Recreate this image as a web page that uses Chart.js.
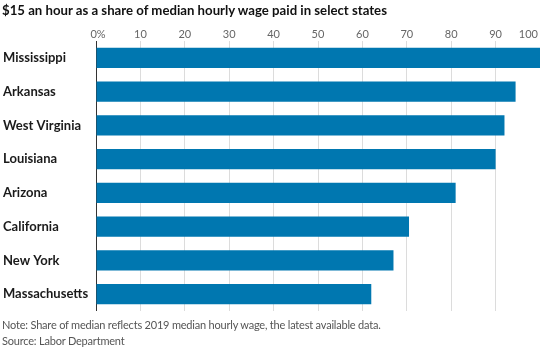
<!DOCTYPE html>
<html>
<head>
<meta charset="utf-8">
<script src="https://cdn.jsdelivr.net/npm/chart.js@4"></script>
<style>
  body { margin: 0; background: #fff; }
  #wrap { position: relative; width: 540px; height: 348px; overflow: hidden; }
  #chart { position: absolute; left: 0; top: 0; }
  .title { position: absolute; left: 2px; top: 2px; font: bold 13.2px Lato, sans-serif; color: #111; white-space: nowrap; }
  .note { position: absolute; left: 2px; font: 11px Lato, sans-serif; color: #555; white-space: nowrap; letter-spacing: -0.2px; }
</style>
</head>
<body>
<div id="wrap">
  <canvas id="chart" width="540" height="348"></canvas>
  <div class="title">$15 an hour as a share of median hourly wage paid in select states</div>
  <div class="note" style="top:318px">Note: Share of median reflects 2019 median hourly wage, the latest available data.</div>
  <div class="note" style="top:334px">Source: Labor Department</div>
</div>
<script>
const states = ['Mississippi', 'Arkansas', 'West Virginia', 'Louisiana', 'Arizona', 'California', 'New York', 'Massachusetts'];
const shares = [102, 94.5, 92, 90, 81, 70.5, 67, 62];
const tickValues = [0, 10, 20, 30, 40, 50, 60, 70, 80, 90, 100];

// x tick labels sit above the plot; the last one is pulled in so it stays on the canvas
const topLabels = {
  id: 'topLabels',
  afterDraw(chart) {
    const ctx = chart.ctx;
    const x = chart.scales.x;
    ctx.save();
    ctx.font = '11px Lato, sans-serif';
    ctx.fillStyle = '#666';
    ctx.textBaseline = 'middle';
    tickValues.forEach((v, i) => {
      const px = x.getPixelForValue(v);
      const text = v === 0 ? '0%' : String(v);
      if (i === tickValues.length - 1) {
        ctx.textAlign = 'right';
        ctx.fillText(text, px - 2, 34);
      } else {
        ctx.textAlign = 'center';
        ctx.fillText(text, px + (v === 0 ? 2 : 0), 34);
      }
    });
    ctx.restore();
  }
};

new Chart(document.getElementById('chart'), {
  type: 'bar',
  data: {
    labels: states,
    datasets: [{
      data: shares,
      backgroundColor: '#0077b0',
      borderWidth: 0,
      barPercentage: 0.6,
      categoryPercentage: 1
    }]
  },
  options: {
    indexAxis: 'y',
    responsive: false,
    animation: false,
    layout: { padding: { left: 3, right: 0, top: 41, bottom: 37 } },
    plugins: { legend: { display: false }, tooltip: { enabled: false } },
    scales: {
      x: {
        position: 'top',
        min: 0,
        max: 100,
        ticks: { display: false, stepSize: 10 },
        border: { display: false },
        grid: {
          drawTicks: false,
          color: c => c.tick.value === 0 ? '#333' : '#dcdcdc',
          lineWidth: 1
        },
        afterFit: s => { s.height = 0; s.paddingLeft = 0; s.paddingRight = 0; }
      },
      y: {
        ticks: {
          crossAlign: 'far',
          color: '#1a1a1a',
          font: { family: 'Lato, sans-serif', size: 13, weight: 'bold' }
        },
        border: { display: false },
        grid: { display: false },
        afterFit: s => { s.width = 93; }
      }
    }
  },
  plugins: [topLabels]
});
</script>
</body>
</html>
